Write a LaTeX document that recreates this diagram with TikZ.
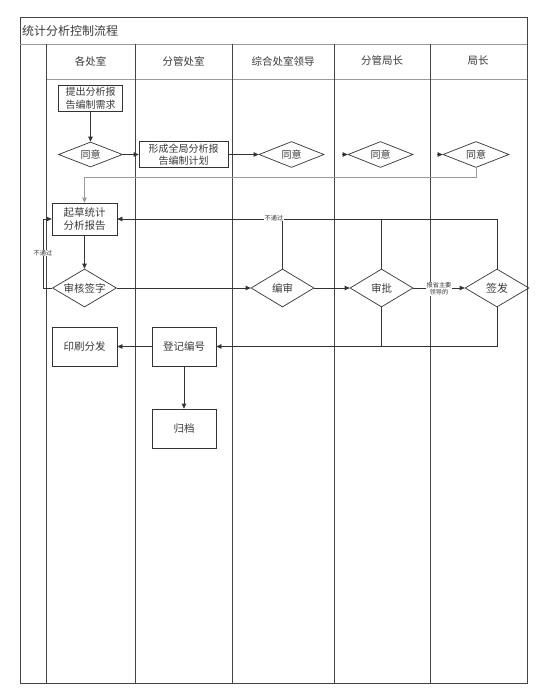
\documentclass[tikz,border=0pt]{standalone}
\usepackage{fontspec}
\setmainfont{Noto Sans CJK SC}
\usetikzlibrary{shapes.geometric,arrows.meta}
\definecolor{lc}{HTML}{333333}
\definecolor{tc}{HTML}{3A3A3A}
\definecolor{fc}{HTML}{444444}
\definecolor{lg}{HTML}{9A9A9A}
\tikzset{
  frameline/.style={draw=fc,line width=0.9pt},
  hdr/.style={font=\fontsize{10.5}{12}\selectfont,text=tc},
  boxn/.style={draw=lc,line width=0.7pt,rectangle,inner sep=0pt,align=center,
    font=\fontsize{10}{12.5}\selectfont,text=tc},
  dia/.style={draw=lc,line width=0.7pt,diamond,inner sep=0pt,
    font=\fontsize{10}{12}\selectfont,text=tc},
  conn/.style={draw=lc,line width=0.7pt,-{Triangle[length=5pt,width=4.5pt]}},
  plain/.style={draw=lc,line width=0.7pt},
  small/.style={font=\fontsize{6.2}{7.2}\selectfont,text=tc,fill=white,inner sep=0.5pt,align=center}
}
\begin{document}
\begin{tikzpicture}[x=1pt,y=-1pt]
\useasboundingbox (0,0) rectangle (559,696);
% frame
\draw[frameline] (20,17) rectangle (527,683);
\draw[draw=lg,line width=1pt] (20,44) -- (527,44);
\draw[draw=lg,line width=1pt] (46,79) -- (527,79);
\foreach \x in {46,135,232,334,430}{\draw[frameline] (\x,44) -- (\x,683);}
\node[anchor=west,font=\fontsize{12}{14}\selectfont,text=tc,inner sep=0pt] (title) at (22,31) {统计分析控制流程};
\node[hdr] (h1) at (90.5,61) {各处室};
\node[hdr] (h2) at (183.5,61) {分管处室};
\node[hdr] (h3) at (283,61) {综合处室领导};
\node[hdr] (h4) at (382,61) {分管局长};
\node[hdr] (h5) at (478,61) {局长};
% nodes
\node[boxn,minimum width=64pt,minimum height=26pt] (b1) at (90.5,98) {提出分析报\\告编制需求};
\node[dia,minimum width=64pt,minimum height=25pt] (d1) at (90.5,154.5) {\makebox[0pt]{同意}};
\node[boxn,minimum width=89pt,minimum height=26pt] (b2) at (183.5,154.5) {形成全局分析报\\告编制计划};
\node[dia,minimum width=65pt,minimum height=26pt] (d2) at (291.5,154.5) {\makebox[0pt]{同意}};
\node[dia,minimum width=65pt,minimum height=26pt] (d3) at (380.5,154.5) {\makebox[0pt]{同意}};
\node[dia,minimum width=66pt,minimum height=26pt] (d4) at (476,154.5) {\makebox[0pt]{同意}};
\node[boxn,minimum width=65pt,minimum height=32pt,font=\fontsize{10.5}{13}\selectfont] (b3) at (84.5,219) {起草统计\\分析报告};
\node[dia,minimum width=64pt,minimum height=38pt,font=\fontsize{10.5}{12}\selectfont] (d5) at (84.5,288) {\makebox[0pt]{审核签字}};
\node[dia,minimum width=63pt,minimum height=38pt,font=\fontsize{10.5}{12}\selectfont] (d6) at (282.5,288) {\makebox[0pt]{编审}};
\node[dia,minimum width=63pt,minimum height=38pt,font=\fontsize{10.5}{12}\selectfont] (d7) at (381.5,288) {\makebox[0pt]{审批}};
\node[dia,minimum width=64pt,minimum height=38pt,font=\fontsize{11}{12}\selectfont] (d8) at (497,288) {\makebox[0pt]{签发}};
\node[boxn,minimum width=65pt,minimum height=39pt,font=\fontsize{10.5}{12}\selectfont] (b4) at (84.5,346.5) {印刷分发};
\node[boxn,minimum width=64pt,minimum height=39pt,font=\fontsize{10.5}{12}\selectfont] (b5) at (184,346.5) {登记编号};
\node[boxn,minimum width=64pt,minimum height=39pt,font=\fontsize{10.5}{12}\selectfont] (b6) at (184,428.5) {归档};
% coordinates
\coordinate (a3) at (342,154.5);
\coordinate (a4) at (437,154.5);
\coordinate (r1) at (476,177);
\coordinate (l1) at (43,288);
% connectors
\draw[conn] (b1) -- (d1);
\draw[conn] (d1) -- (b2);
\draw[conn] (b2) -- (d2);
\draw[conn] (a3) -- (d3.west);
\draw[conn] (a4) -- (d4.west);
\draw[conn,draw=lg] (d4.south) -- (r1) -| (b3.north);
\draw[conn] (b3) -- (d5);
\draw[conn] (d5.west) -- (l1) |- (b3.west);
\node[small] (n1) at (43,253) {不通过};
\draw[conn] (d5) -- (d6);
\draw[conn] (d6) -- (d7);
\draw[conn] (d7.east) -- (d8.west) node[small,midway,yshift=-1pt] (n2) {报省主要\\领导的};
\draw[conn] (d8.north) |- (b3.east);
\draw[plain] (d7.north) -- (d7.north |- b3.east);
\draw[plain] (d6.north) -- (d6.north |- b3.east);
\node[small] (n3) at (274,218) {不通过};
\draw[conn] (d8.south) |- (b5.east);
\draw[plain] (d7.south) -- (d7.south |- b5.east);
\draw[conn] (b5) -- (b4);
\draw[conn] (b5) -- (b6);
\end{tikzpicture}
\end{document}
